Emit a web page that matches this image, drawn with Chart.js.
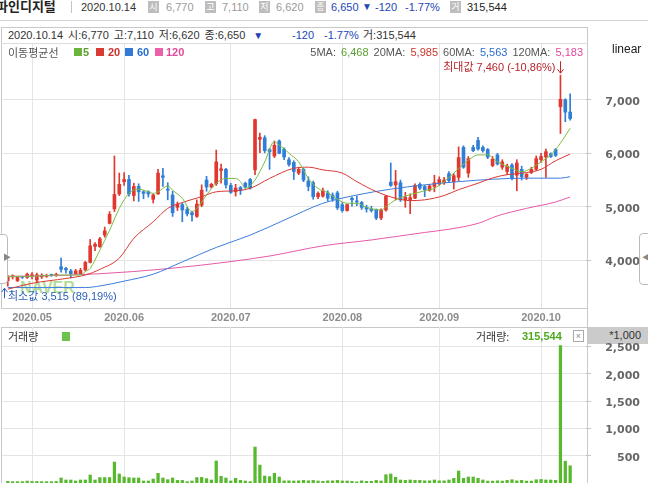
<!DOCTYPE html>
<html>
<head>
<meta charset="utf-8">
<script src="https://cdn.jsdelivr.net/npm/chart.js@4.4.1/dist/chart.umd.min.js"></script>
<style>
body{margin:0;width:648px;height:483px;overflow:hidden;background:#fff;position:relative}
.t{position:absolute;white-space:nowrap;font-family:'Liberation Sans','Noto Sans CJK KR',sans-serif;font-size:11px;line-height:14px;color:#333;z-index:3}
.k{font-family:'Noto Sans CJK KR',sans-serif}
.ico{position:absolute;width:11px;height:12px;top:1px;background:#bdbdbd;color:#fff;font:9px/12px 'Noto Sans CJK KR',sans-serif;text-align:center;z-index:3}
.ln{position:absolute;background:#d4d4d4;z-index:0}
.box{position:absolute;border:1px solid #c8c8c8;box-sizing:border-box;z-index:0}
.sq{position:absolute;width:8px;height:8px;top:48px;z-index:3}
.wrap{position:absolute;left:0;width:648px;z-index:1}
</style>
</head>
<body>
<!-- row 1 -->
<div class="t k" style="left:-4px;top:-1px;font-size:13px;font-weight:bold;color:#222">파인디지털</div>
<div class="ln" style="left:71px;top:1px;width:1px;height:12px;background:#c4c4c4"></div>
<div class="t" style="left:81px;top:0">2020.10.14</div>
<div class="ico" style="left:148px">시</div><div class="t" style="left:166px;top:0;color:#9a9a9a">6,770</div>
<div class="ico" style="left:205px">고</div><div class="t" style="left:222px;top:0;color:#9a9a9a">7,110</div>
<div class="ico" style="left:259px">저</div><div class="t" style="left:276px;top:0;color:#9a9a9a">6,620</div>
<div class="ico" style="left:315px">종</div><div class="t" style="left:331px;top:0;color:#2347b8">6,650</div>
<div class="t" style="left:362px;top:0;color:#2347b8;font-size:10px">▼</div>
<div class="t" style="left:375px;top:0;color:#2347b8">-120</div>
<div class="t" style="left:405px;top:0;color:#2347b8">-1.77%</div>
<div class="ico" style="left:450px">거</div><div class="t" style="left:467px;top:0;color:#222">315,544</div>
<div class="ln" style="left:0;top:20px;width:648px;height:1px"></div>

<!-- frames -->
<div class="box" style="left:1px;top:27px;width:587px;height:282px"></div>
<div class="ln" style="left:1px;top:43px;width:587px;height:1px;background:#dcdcdc"></div>
<div class="ln" style="left:587px;top:308px;width:1px;height:20px;background:#c8c8c8"></div>
<div class="box" style="left:1px;top:327px;width:587px;height:170px"></div>
<div class="t" style="left:588px;top:327px;width:60px;height:17px;background:#cbcbcb;text-align:right;box-sizing:border-box;padding-right:7px;line-height:17px;z-index:0">*1,000</div>

<!-- row 2 -->
<div class="t" style="left:8px;top:28px;word-spacing:2px">2020.10.14 시:6,770 고:7,110 저:6,620 종:6,650 <span style="color:#1d3fbb;font-size:10px;margin-left:3px">▼</span></div>
<div class="t" style="left:292px;top:28px;color:#2347b8">-120</div>
<div class="t" style="left:324px;top:28px;color:#2347b8">-1.77%</div>
<div class="t" style="left:363px;top:28px">거:315,544</div>

<!-- row 3 -->
<div class="t k" style="left:8px;top:45px;color:#555">이동평균선</div>
<div class="sq" style="left:74px;background:#6cb33e"></div><div class="t" style="left:83px;top:45px;color:#5aa12f;font-weight:bold">5</div>
<div class="sq" style="left:96px;background:#d93a32"></div><div class="t" style="left:108px;top:45px;color:#d0302a;font-weight:bold">20</div>
<div class="sq" style="left:125px;background:#3479d6"></div><div class="t" style="left:137px;top:45px;color:#2a6fd0;font-weight:bold">60</div>
<div class="sq" style="left:155px;background:#ec5fa9"></div><div class="t" style="left:166px;top:45px;color:#e0489a;font-weight:bold">120</div>
<div class="t" style="right:65px;top:45px;color:#555;word-spacing:2px">5MA: <span style="color:#5a9e2f">6,468</span> 20MA: <span style="color:#d0342c">5,985</span> 60MA: <span style="color:#2d6ccc">5,563</span> 120MA: <span style="color:#e0489a">5,183</span></div>
<div class="t" style="left:612px;top:42px;font-size:12px;color:#222">linear</div>

<!-- watermark and annotations -->
<div class="t" style="left:20px;top:280px;font-size:16px;line-height:16px;font-weight:bold;color:rgba(110,190,60,0.55);z-index:0">NAVER</div>
<div class="t" id="maxNote" style="color:#b5242a">최대값 7,460 (-10,86%)</div>
<div class="t" id="minNote" style="color:#2b5fb4">최소값 3,515 (89,19%)</div>

<!-- volume header -->
<div class="t k" style="left:8px;top:329px">거래량</div>
<div class="sq" style="left:62px;top:332px;height:9px;background:#6cc24a"></div>
<div class="t k" style="left:476px;top:329px">거래량:</div>
<div class="t" style="left:522px;top:329px;color:#4caa1f;font-weight:bold">315,544</div>
<div class="t" style="left:573px;top:330px;width:11px;height:12px;border:1px solid #aaa;box-sizing:border-box;font-size:9px;line-height:10px;text-align:center;color:#888">×</div>

<!-- side tabs -->
<div class="t" style="left:-6px;top:234px;width:14px;height:50px;border:1px solid #bbb;border-radius:4px;background:#fff;box-sizing:border-box;z-index:3"><span style="position:absolute;left:8px;top:16px;font-size:8px;color:#888">▶</span></div>
<div class="t" style="left:639px;top:233px;width:14px;height:52px;border:1px solid #bbb;border-radius:4px;background:#fff;box-sizing:border-box;z-index:3"><span style="position:absolute;left:2px;top:17px;font-size:8px;color:#888">◀</span></div>

<div class="wrap" style="top:44px;height:283px"><canvas id="price"></canvas></div>
<div class="wrap" style="top:327px;height:156px"><canvas id="vol"></canvas></div>

<script>
const dates = [
  '2020.04.23','2020.04.24','2020.04.27','2020.04.28','2020.04.29',
  '2020.05.04','2020.05.06','2020.05.07','2020.05.08','2020.05.11','2020.05.12','2020.05.13','2020.05.14','2020.05.15','2020.05.18',
  '2020.05.19','2020.05.20','2020.05.21','2020.05.22','2020.05.25','2020.05.26','2020.05.27','2020.05.28','2020.05.29',
  '2020.06.01','2020.06.02','2020.06.03','2020.06.04','2020.06.05','2020.06.08','2020.06.09','2020.06.10','2020.06.11','2020.06.12','2020.06.15',
  '2020.06.16','2020.06.17','2020.06.18','2020.06.19','2020.06.22','2020.06.23','2020.06.24','2020.06.25','2020.06.26','2020.06.29','2020.06.30',
  '2020.07.01','2020.07.02','2020.07.03','2020.07.06','2020.07.07','2020.07.08','2020.07.09','2020.07.10','2020.07.13','2020.07.14','2020.07.15',
  '2020.07.16','2020.07.17','2020.07.20','2020.07.21','2020.07.22','2020.07.23','2020.07.24','2020.07.27','2020.07.28','2020.07.29','2020.07.30','2020.07.31',
  '2020.08.03','2020.08.04','2020.08.05','2020.08.06','2020.08.07','2020.08.10','2020.08.11','2020.08.12','2020.08.13','2020.08.14',
  '2020.08.18','2020.08.19','2020.08.20','2020.08.21','2020.08.24','2020.08.25','2020.08.26','2020.08.27','2020.08.28','2020.08.31',
  '2020.09.01','2020.09.02','2020.09.03','2020.09.04','2020.09.07','2020.09.08','2020.09.09','2020.09.10','2020.09.11','2020.09.14','2020.09.15',
  '2020.09.16','2020.09.17','2020.09.18','2020.09.21','2020.09.22','2020.09.23','2020.09.24','2020.09.25','2020.09.28','2020.09.29',
  '2020.10.05','2020.10.06','2020.10.07','2020.10.08','2020.10.12','2020.10.13','2020.10.14'
];

// one line per month (Apr, May, Jun, Jul, Aug, Sep, Oct)
const open = [
  3620,3690,3620,3690,3680,
  3700,3630,3690,3700,3730,3720,3880,3850,3800,3750,3750,3820,3960,4260,4255,4470,4690,4960,5240,
  5470,5510,5210,5380,5280,5280,5140,5240,5580,5330,5220,4990,5040,4950,4890,4820,5030,5500,5370,5430,5680,5700,
  5400,5280,5360,5440,5510,5690,6260,6290,6070,5950,6230,6080,5880,5830,5630,5700,5480,5450,5190,5200,5260,5220,5260,
  5040,4930,5160,5110,5080,4990,4960,4950,4790,4940,5460,5410,5450,5130,5130,5160,5420,5380,5310,5380,
  5430,5450,5620,5470,5550,6110,5630,6110,6240,6110,6070,5770,5970,5740,5660,5780,5590,5700,5550,5640,5700,
  5880,5930,5990,6070,6870,7000,6770
];
const high = [
  3720,3730,3700,3700,3760,
  3770,3760,3750,3740,3740,3760,4040,3870,3830,3830,3850,3980,4390,4330,4430,4620,4910,5950,5630,
  5640,5590,5440,5430,5300,5300,5240,5700,5720,5450,5290,5090,5070,4990,4920,5130,5410,5570,5440,6060,5800,5720,
  5440,5420,5380,5460,5530,6640,6380,6330,6090,6230,6250,6100,5920,5860,5740,5720,5560,5480,5280,5350,5300,5260,5290,
  5080,5050,5180,5200,5100,5030,5010,4960,4960,5210,5820,5680,5500,5270,5240,5430,5450,5400,5420,5590,
  5560,5550,5660,5620,6120,6140,5940,6150,6300,6140,6090,5940,6000,5880,5800,5810,5880,5760,5620,5740,5950,
  6000,6080,6010,6090,7460,7020,7110
];
const low = [
  3515,3650,3600,3660,3660,
  3650,3600,3660,3680,3700,3700,3780,3760,3670,3740,3740,3800,3950,4180,4240,4430,4680,4910,5210,
  5400,5200,5110,5100,5150,5180,5070,5230,5380,5130,4820,4930,4720,4830,4730,4800,5000,5290,5350,5400,5440,5350,
  5250,5200,5230,5350,5330,5600,6010,6010,5700,5920,5990,5880,5760,5510,5600,5470,5300,5140,5150,5180,5110,5100,4950,
  4900,4920,5010,5020,4950,4900,4900,4760,4760,4920,5380,5130,5100,4990,4870,5150,5320,5190,5290,5280,
  5400,5420,5450,5330,5480,5720,5550,6030,6060,6020,5900,5750,5780,5700,5600,5500,5300,5500,5510,5620,5680,
  5830,5550,5920,5940,6370,6590,6620
];
const close = [
  3690,3700,3680,3680,3740,
  3730,3730,3720,3720,3720,3740,3830,3820,3750,3800,3810,3960,4270,4300,4400,4550,4860,5230,5420,
  5510,5240,5380,5280,5250,5240,5220,5630,5550,5310,4890,5050,4940,4870,4850,5050,5310,5370,5420,5840,5710,5410,
  5270,5350,5300,5370,5350,6630,6300,6050,6030,6150,6000,5930,5790,5660,5700,5500,5380,5190,5250,5300,5160,5140,4980,
  4930,5040,5130,5090,4990,4960,4930,4790,4940,5200,5400,5470,5130,5180,5170,5400,5350,5320,5390,5450,
  5510,5500,5490,5580,5920,5740,5900,6050,6080,6050,5930,5890,5800,5840,5760,5530,5820,5560,5610,5700,5900,
  5940,6030,5940,5960,7010,6770,6650
];
// volume in thousands of shares
const volume = [
  30,25,25,25,35,
  28,28,25,25,25,28,92,55,55,37,55,55,146,55,100,100,100,384,165,
  110,98,92,92,37,37,73,177,92,61,92,48,48,25,37,100,103,80,55,403,122,92,
  37,85,48,37,25,659,329,128,116,177,110,40,40,37,40,48,40,48,37,30,40,40,48,
  37,37,30,20,40,30,30,48,37,152,165,104,55,48,55,48,48,40,40,55,
  40,40,55,85,220,85,110,110,85,55,35,35,40,35,48,60,40,48,35,35,60,
  65,55,55,48,2520,400,315.544
];

// moving averages: [day index, value]
const ma5 = [[0,3700],[5,3700],[10,3725],[15,3725],[16,3790],[17,3850],[19,4190],[21,4560],[23,4970],[25,5250],[27,5330],[29,5280],
  [30,5250],[31,5280],[33,5390],[34,5310],[36,5160],[38,4910],[39,4970],[41,5220],[43,5440],[45,5530],[47,5530],[48,5470],[49,5345],
  [51,5500],[53,5840],[55,6220],[56,6150],[57,6090],[58,6000],[60,5840],[62,5530],[64,5345],[66,5265],[68,5140],[70,5065],[72,5065],
  [74,4990],[77,4940],[78,5000],[80,5130],[82,5200],[84,5250],[86,5300],[88,5345],[90,5470],[92,5630],[95,5870],[97,5970],[99,5970],
  [101,5840],[104,5720],[106,5655],[108,5720],[110,5840],[112,5970],[114,6190],[116,6468]];
const ma20 = [[0,3460],[5,3570],[12,3660],[16,3725],[19,3830],[23,4040],[26,4410],[30,4720],[33,4970],[36,5080],[40,5190],[43,5280],
  [47,5300],[50,5345],[54,5530],[59,5720],[62,5740],[65,5690],[69,5630],[72,5470],[76,5285],[80,5160],[83,5115],[86,5130],[90,5210],
  [93,5320],[97,5440],[100,5540],[103,5600],[107,5640],[110,5700],[113,5860],[116,5985]];
const ma60 = [[0,3490],[16,3490],[19,3520],[24,3610],[30,3740],[36,3970],[43,4240],[50,4470],[57,4750],[65,5065],[72,5220],[79,5330],
  [86,5410],[93,5470],[100,5515],[107,5535],[114,5535],[116,5563]];
const ma120 = [[0,3700],[12,3720],[26,3790],[40,3910],[54,4080],[65,4270],[75,4380],[86,4520],[91,4580],[97,4690],[101,4830],
  [107,4970],[113,5090],[116,5183]];

const priceTicks = [4000, 5000, 6000, 7000];
const volTicks = [500, 1000, 1500, 2000, 2500];

const RED = '#e0382e', BLUE = '#2f7ed8';
const fontTxt = "'Liberation Sans','Noto Sans CJK KR',sans-serif";
const candleColor = c => close[c.dataIndex] >= open[c.dataIndex] ? RED : BLUE;
const monthStarts = dates.map((d, i) => i).filter(i => i > 0 && dates[i].slice(5, 7) !== dates[i - 1].slice(5, 7));
const fmt = v => v.toLocaleString('en-US');

// keep the plot box exactly where the frame is: no label padding
const noPad = s => { s.paddingTop = 0; s.paddingBottom = 0; s.paddingLeft = 0; s.paddingRight = 0; };

const xBase = {
  type: 'linear', min: -1.19, max: 119.27, offset: false,
  grid: { color: '#e4e4e4', offset: false, drawTicks: false },
  border: { display: false },
  afterBuildTicks: s => { s.ticks = monthStarts.map(v => ({ value: v })); }
};
const yTickFont = { family: 'DejaVu Sans', size: 11, weight: 'bold' };

const maLine = (pts, color) => ({
  type: 'line', data: pts.map(p => ({ x: p[0], y: p[1] })), borderColor: color, borderWidth: 1,
  pointRadius: 0, cubicInterpolationMode: 'monotone'
});

function arrow(ctx, x, y0, y1, color) {
  const d = y1 > y0 ? 1 : -1;
  ctx.save();
  ctx.strokeStyle = color; ctx.lineWidth = 1;
  ctx.beginPath();
  ctx.moveTo(x, y0); ctx.lineTo(x, y1);
  ctx.moveTo(x - 3, y1 - 4 * d); ctx.lineTo(x, y1); ctx.lineTo(x + 3, y1 - 4 * d);
  ctx.stroke();
  ctx.restore();
}

const hiIdx = high.indexOf(Math.max(...high));
const loIdx = low.indexOf(Math.min(...low));

const markers = {
  id: 'markers',
  afterDatasetsDraw(chart) {
    const { ctx, scales: { x, y } } = chart;
    const hx = Math.round(x.getPixelForValue(hiIdx)) + 0.5;
    const hy = y.getPixelForValue(high[hiIdx]);
    arrow(ctx, hx, hy - 14, hy - 2, '#c0282d');
    const lx = Math.round(x.getPixelForValue(loIdx)) - 3.5;
    const ly = y.getPixelForValue(low[loIdx]);
    arrow(ctx, lx, ly + 12, ly + 2, '#2b5fb4');
  }
};

const priceChart = new Chart(document.getElementById('price'), {
  type: 'bar',
  data: {
    datasets: [
      maLine(ma5, '#7cbd42'),
      maLine(ma20, '#d83a34'),
      maLine(ma60, '#3b7ddd'),
      maLine(ma120, '#e45aa8'),
      { type: 'bar', data: dates.map((d, i) => ({ x: i, y: [open[i], close[i]] })), backgroundColor: candleColor,
        barThickness: 3, minBarLength: 1, grouped: false },
      { type: 'bar', data: dates.map((d, i) => ({ x: i, y: [low[i], high[i]] })), backgroundColor: candleColor,
        barThickness: 1, grouped: false }
    ]
  },
  options: {
    responsive: true, maintainAspectRatio: false, animation: false, devicePixelRatio: 1,
    layout: { autoPadding: false, padding: { left: 2, right: 8, top: 0, bottom: 0 } },
    plugins: { legend: { display: false }, tooltip: { enabled: false } },
    scales: {
      x: Object.assign({}, xBase, {
        ticks: { autoSkip: false, maxRotation: 0, padding: 3, color: '#8c8c8c',
          font: { family: fontTxt, size: 11, weight: 'bold' }, callback: v => dates[v].slice(0, 7) },
        afterFit: s => { s.height = 19; noPad(s); }
      }),
      y: {
        position: 'right', min: 3108, max: 8043,
        afterBuildTicks: s => { s.ticks = priceTicks.map(v => ({ value: v })); },
        grid: { color: '#e4e4e4', tickLength: 5, tickColor: '#c4c4c4' },
        border: { display: false },
        ticks: { crossAlign: 'far', padding: 13, labelOffset: 2, color: '#666', font: yTickFont, callback: fmt },
        afterFit: s => { s.width = 54; noPad(s); }
      }
    }
  },
  plugins: [markers]
});

new Chart(document.getElementById('vol'), {
  type: 'bar',
  data: {
    datasets: [{ data: dates.map((d, i) => ({ x: i, y: volume[i] })), backgroundColor: '#58b82e', barThickness: 2.6, grouped: false }]
  },
  options: {
    responsive: true, maintainAspectRatio: false, animation: false, devicePixelRatio: 1,
    layout: { autoPadding: false, padding: { left: 2, right: 8, top: 0, bottom: 0 } },
    plugins: { legend: { display: false }, tooltip: { enabled: false } },
    scales: {
      x: Object.assign({}, xBase, { ticks: { display: false }, afterFit: s => { s.height = 0; noPad(s); } }),
      y: {
        position: 'right', min: 0, max: 2860,
        afterBuildTicks: s => { s.ticks = volTicks.map(v => ({ value: v })); },
        grid: { color: '#e4e4e4', tickLength: 5, tickColor: '#c4c4c4' },
        border: { display: false },
        ticks: { crossAlign: 'far', padding: 13, labelOffset: 2, color: '#666', font: yTickFont, callback: fmt },
        afterFit: s => { s.width = 54; noPad(s); }
      }
    }
  }
});

// place the max / min notes next to their candles
const xs = priceChart.scales.x, ys = priceChart.scales.y;
const maxNote = document.getElementById('maxNote');
maxNote.style.right = (648 - xs.getPixelForValue(hiIdx) + 5) + 'px';
maxNote.style.top = (44 + ys.getPixelForValue(high[hiIdx]) - 15) + 'px';
const minNote = document.getElementById('minNote');
minNote.style.left = Math.round(xs.getPixelForValue(loIdx)) + 'px';
minNote.style.top = (44 + ys.getPixelForValue(low[loIdx]) + 3) + 'px';
</script>
</body>
</html>
